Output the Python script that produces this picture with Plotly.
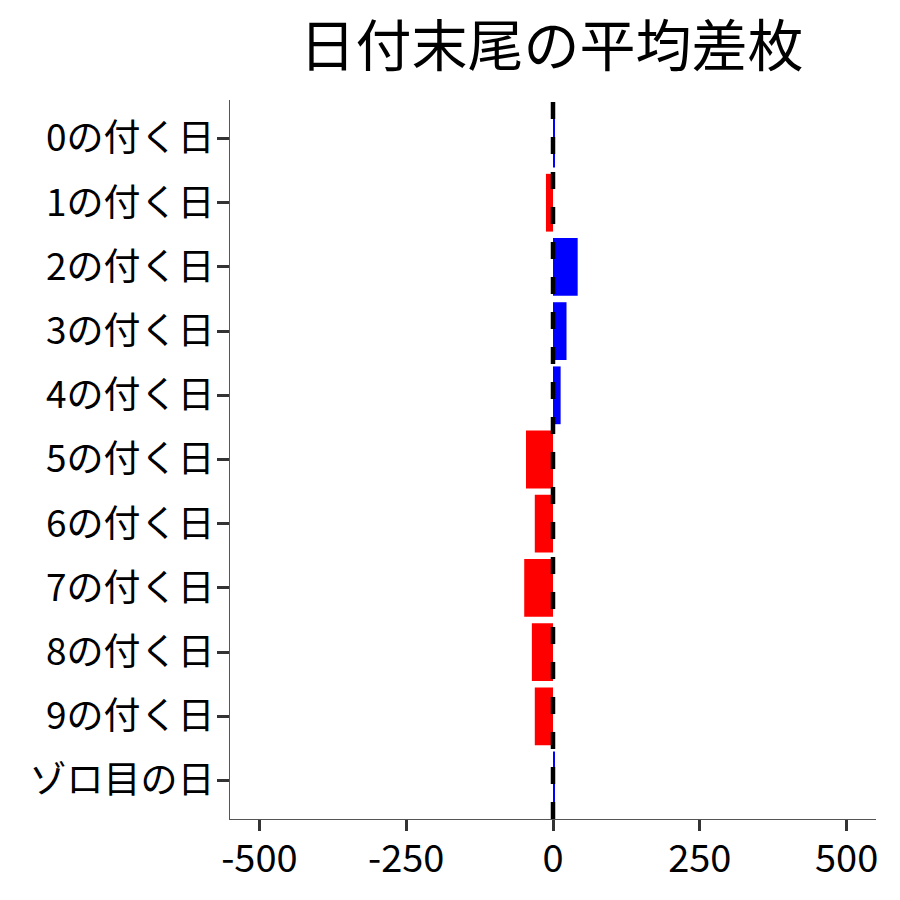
import plotly.graph_objects as go

categories = ["0の付く日", "1の付く日", "2の付く日", "3の付く日", "4の付く日",
              "5の付く日", "6の付く日", "7の付く日", "8の付く日", "9の付く日", "ゾロ目の日"]
values = [2, -12, 42, 23, 13, -46, -31, -49, -36, -31, 3]
colors = ["blue" if v >= 0 else "red" for v in values]
x_ticks = [-500, -250, 0, 250, 500]
title_text = "日付末尾の平均差枚"

FONT = "Noto Sans CJK JP"

fig = go.Figure()
fig.add_trace(go.Bar(
    y=categories, x=values, orientation="h",
    marker=dict(color=colors, line=dict(width=0)),
    width=0.9, showlegend=False,
))
fig.add_shape(type="line", xref="x", yref="paper", x0=0, x1=0, y0=0, y1=1,
              line=dict(color="black", width=4.5, dash="17px,18px"))

# page body adds an 8px offset; margins compensate so the plot lands where the reference has it
fig.update_layout(
    width=900, height=900,
    paper_bgcolor="white", plot_bgcolor="white",
    margin=dict(l=222, r=32, t=92, b=89, autoexpand=False),
    font=dict(family=FONT, color="black"),
    title=dict(text=title_text, x=0.604, xanchor="center", y=0.957, yanchor="middle",
               font=dict(size=56, family=FONT, color="black")),
    bargap=0.1,
)
fig.update_xaxes(
    range=[-550, 550], tickvals=x_ticks, ticktext=[str(t) for t in x_ticks],
    showgrid=False, zeroline=False, showline=True, linecolor="#555555", linewidth=1.2,
    ticks="outside", ticklen=11, tickwidth=3, tickcolor="#333333",
    tickfont=dict(size=38, family=FONT, color="black"), automargin=False,
    ticklabelstandoff=-5,
)
fig.update_yaxes(
    categoryorder="array", categoryarray=categories, autorange=False,
    range=[len(categories) - 0.4, -0.6],
    showgrid=False, zeroline=False, showline=True, linecolor="#555555", linewidth=1.2,
    ticks="outside", ticklen=12, tickwidth=3, tickcolor="#333333",
    tickfont=dict(size=37, family=FONT, color="black"), automargin=False,
    ticklabelstandoff=-5,
)

fig.write_html("out.html")
